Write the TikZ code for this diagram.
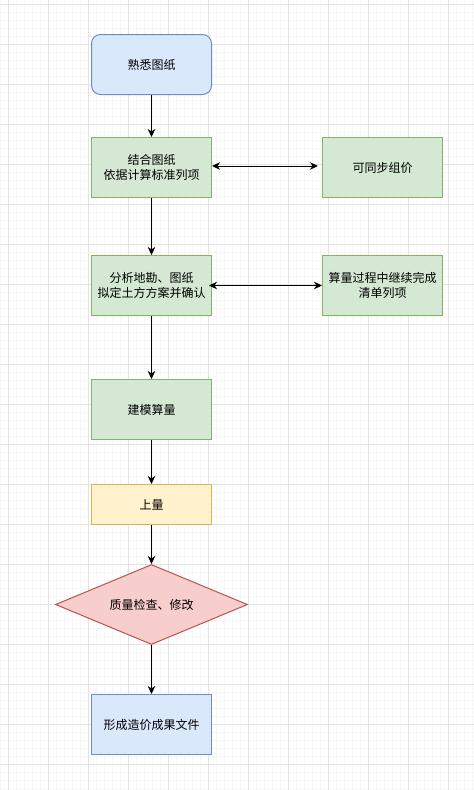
\documentclass[tikz,border=0pt]{standalone}
\usepackage{fontspec}
\setmainfont{Noto Sans CJK SC}
\usetikzlibrary{arrows.meta,shapes.geometric}
\definecolor{bfill}{HTML}{DAE8FC}
\definecolor{bdraw}{HTML}{6C8EBF}
\definecolor{gfill}{HTML}{D5E8D4}
\definecolor{gdraw}{HTML}{82B366}
\definecolor{yfill}{HTML}{FFF2CC}
\definecolor{ydraw}{HTML}{D6B656}
\definecolor{rfill}{HTML}{F8CECC}
\definecolor{rdraw}{HTML}{B85450}
\definecolor{gridmin}{HTML}{F6F6F6}
\definecolor{gridmaj}{HTML}{E3E3E3}
\tikzset{
  box/.style={rectangle, minimum width=120pt, minimum height=60pt, inner sep=0pt,
    line width=1pt, align=center, font=\fontsize{12pt}{14.5pt}\selectfont},
  bluebox/.style={box, fill=bfill, draw=bdraw},
  greenbox/.style={box, fill=gfill, draw=gdraw},
  yellowbox/.style={box, fill=yfill, draw=ydraw, minimum height=40pt},
  redshape/.style={diamond, aspect=2.4, minimum width=192pt, minimum height=80pt, inner sep=0pt,
    fill=rfill, draw=rdraw, line width=1pt, font=\fontsize{12pt}{14.5pt}\selectfont},
  arr/.style={-{Stealth[length=8pt,width=7.5pt,inset=2.5pt]}, line width=1pt, black},
  darr/.style={{Stealth[length=8pt,width=7.5pt,inset=2.5pt]}-{Stealth[length=8pt,width=7.5pt,inset=2.5pt]}, line width=1pt, black}
}
\begin{document}
\begin{tikzpicture}[x=1pt,y=-1pt]
\useasboundingbox (0,0) rectangle (474,790);
\fill[white] (0,0) rectangle (474,790);
% grid
\foreach \i in {0,...,59} {
  \draw[gridmin, line width=0.6pt] (0.5+8*\i,0) -- (0.5+8*\i,790);
}
\foreach \j in {0,...,98} {
  \draw[gridmin, line width=0.6pt] (0,4.5+8*\j) -- (474,4.5+8*\j);
}
\foreach \i in {0,...,11} {
  \draw[gridmaj, line width=0.8pt] (8.5+40*\i,0) -- (8.5+40*\i,790);
}
\foreach \j in {0,...,19} {
  \draw[gridmaj, line width=0.8pt] (0,4.5+40*\j) -- (474,4.5+40*\j);
}
% nodes
\node[bluebox, rounded corners=9pt] (n1) at (151.5,64.5) {熟悉图纸};
\node[greenbox] (n2) at (151.5,167.5) {结合图纸\\依据计算标准列项};
\node[greenbox] (r1) at (382.5,167.5) {可同步组价};
\node[greenbox] (n3) at (151.5,285.5) {分析地勘、图纸\\拟定土方方案并确认};
\node[greenbox] (r2) at (382.5,285.5) {算量过程中继续完成\\清单列项};
\node[greenbox] (n4) at (151.5,409.5) {建模算量};
\node[yellowbox] (n5) at (151.5,504.5) {上量};
\node[redshape] (n6) at (151.5,604.5) {质量检查、修改};
\node[bluebox] (n7) at (151.5,724.5) {形成造价成果文件};
% connectors
\draw[arr] (n1) -- (n2);
\draw[arr] (n2) -- (n3);
\draw[arr] (n3) -- (n4);
\draw[arr] (n4) -- (n5);
\draw[arr] (n5) -- (n6);
\draw[arr] (n6) -- (n7);
\draw[darr, shorten >=4pt] ([yshift=1.5pt]n2.east) -- ([yshift=1.5pt]r1.west);
\draw[darr, shorten <=-3pt] (n3.east) -- (r2.west);
\end{tikzpicture}
\end{document}
